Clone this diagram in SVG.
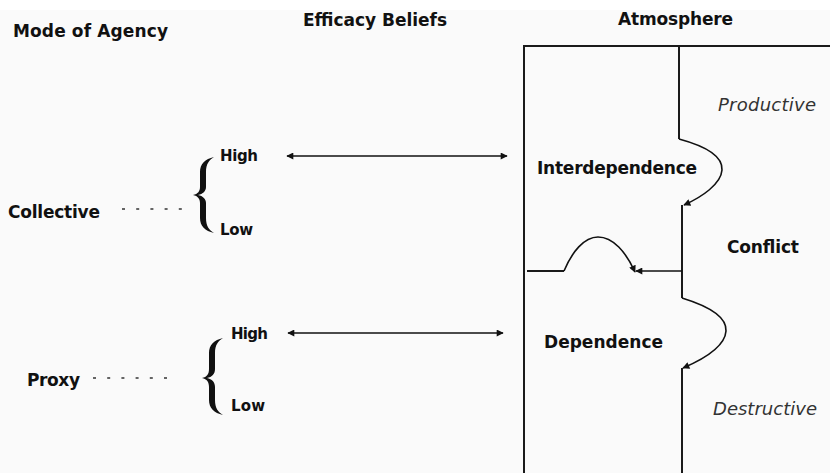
<svg xmlns="http://www.w3.org/2000/svg" width="830" height="473" viewBox="0 0 830 473">
<style>
text{font-family:"DejaVu Sans","Liberation Sans",sans-serif;fill:#111}
.h{font-size:17px;font-weight:bold}
.l{font-size:17px;font-weight:bold}
.s{font-size:15px;font-weight:bold}
.i{font-size:18px;font-style:italic;fill:#333}
.ln{fill:none;stroke:#1a1a1a;stroke-width:2}
.ar{fill:none;stroke:#111;stroke-width:1.6}
.dot{stroke:#333;stroke-width:1.6;stroke-dasharray:3 11.2}
.br{fill:#111}
</style>
<defs>
<marker id="ah" viewBox="0 0 10 10" refX="9" refY="5" markerWidth="9" markerHeight="7" markerUnits="userSpaceOnUse" orient="auto-start-reverse">
<path d="M0,0 L10,5 L0,10 Z" fill="#111"/>
</marker>
</defs>
<rect x="0" y="0" width="830" height="473" fill="#ffffff"/>
<rect x="0" y="10" width="830" height="463" fill="#fafafa"/>

<g id="headers">
<text class="h" x="13" y="37" textLength="155">Mode of Agency</text>
<text class="h" x="303" y="26" textLength="144">Efficacy Beliefs</text>
<text class="h" x="618" y="25" textLength="115">Atmosphere</text>
</g>

<g id="collective">
<text class="l" x="8" y="218" textLength="92">Collective</text>
<line class="dot" x1="122" y1="209" x2="182" y2="209"/>
<path class="br" d="M214,157 C205,159 200,164 200,172 L200,187 C200,191 198,194 193,195 C198,196 200,199 200,203 L200,218 C200,226 205,231 214,233 C209,230 206,226 206,218 L206,203 C206,199 203,196 198,195 C203,194 206,191 206,187 L206,172 C206,164 209,160 214,157 Z"/>
<text class="s" x="220" y="161" textLength="38">High</text>
<text class="s" x="220" y="235" textLength="33">Low</text>
</g>

<g id="proxy">
<text class="l" x="27" y="386" textLength="53">Proxy</text>
<line class="dot" x1="93" y1="378" x2="167" y2="378"/>
<path class="br" d="M223,338 C214,340 209,345 209,353 L209,369 C209,374 207,377 202,378 C207,379 209,382 209,387 L209,400 C209,408 214,413 223,415 C218,412 215,408 215,400 L215,387 C215,382 212,379 207,378 C212,377 215,374 215,369 L215,353 C215,345 218,341 223,338 Z"/>
<text class="s" x="231" y="339" textLength="37">High</text>
<text class="s" x="231" y="411" textLength="34">Low</text>
</g>

<g id="atmosphere">
<path class="ln" d="M524,473 L524,46 L830,46"/>
<text class="l" x="537" y="174" textLength="160">Interdependence</text>
<text class="l" x="727" y="253" textLength="72">Conflict</text>
<text class="l" x="544" y="348" textLength="119">Dependence</text>
<text class="i" x="718" y="111" textLength="98">Productive</text>
<text class="i" x="713" y="415" textLength="104">Destructive</text>
</g>

<g id="connectors">
<line class="ar" x1="287" y1="156" x2="507" y2="156" marker-start="url(#ah)" marker-end="url(#ah)"/>
<line class="ar" x1="288" y1="333" x2="503" y2="333" marker-start="url(#ah)" marker-end="url(#ah)"/>
<path class="ln" d="M679,47 L679,139"/>
<path class="ar" d="M679,139 C705,146 723,156 722,170 C721,184 702,197 684,205" marker-end="url(#ah)"/>
<path class="ln" d="M682,205 L682,298"/>
<path class="ar" d="M682,298 C708,306 727,316 726,331 C725,346 704,359 683,368" marker-end="url(#ah)"/>
<path class="ln" d="M682,368 L682,473"/>
<path class="ar" d="M682,271 L636,271" marker-end="url(#ah)"/>
<path class="ln" d="M527,271 L564,271"/>
<path class="ar" d="M564,271 C572,252 584,237 598,237 C613,237 626,252 635,272" marker-end="url(#ah)"/>
</g>
</svg>
